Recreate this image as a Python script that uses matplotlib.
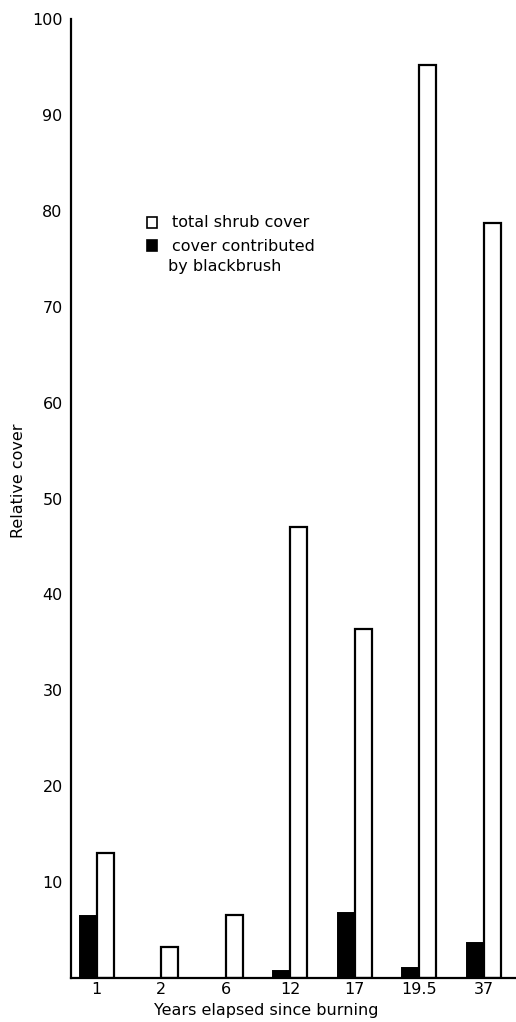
import matplotlib
matplotlib.use("Agg")
import matplotlib.pyplot as plt
from matplotlib.patches import Rectangle
import numpy as np

plt.rcParams['font.family'] = ['DejaVu Sans']

categories = ["1", "2", "6", "12", "17", "19.5", "37"]
total_shrub = [13.0, 3.2, 6.6, 47.0, 36.4, 95.2, 78.7]
blackbrush = [6.5, 0.0, 0.0, 0.7, 6.8, 1.0, 3.6]
yticks = [10, 20, 30, 40, 50, 60, 70, 80, 90, 100]

fig = plt.figure(figsize=(5.16, 10.22), dpi=100)
ax = fig.add_axes([71/516, 1 - 978/1022, 1 - 71/516, (978 - 19)/1022])

x = np.arange(len(categories))
w = 0.265
ax.bar(x - w/2, blackbrush, width=w, color='black', edgecolor='black', linewidth=1.4)
ax.bar(x + w/2, total_shrub, width=w, color='white', edgecolor='black', linewidth=1.6)

ax.set_xlim(-0.40, 6.5)
ax.set_ylim(0, 100)
ax.set_yticks(yticks)
ax.set_yticklabels([str(v) for v in yticks], fontsize=11.5)
ax.set_xticks(x)
ax.set_xticklabels(categories, fontsize=11.5)
ax.tick_params(axis='both', length=0)
ax.tick_params(axis='y', pad=6)
ax.tick_params(axis='x', pad=3)
for s in ['top', 'right']:
    ax.spines[s].set_visible(False)
ax.spines['left'].set_linewidth(1.6)
ax.spines['bottom'].set_linewidth(1.6)

fig.text(19/516, 1 - 481/1022, "Relative cover", rotation=90, ha='center', va='center', fontsize=11.5)
fig.text(266/516, 1 - 1010/1022, "Years elapsed since burning", ha='center', va='center', fontsize=11.5)

# legend
fig.patches.append(Rectangle((147/516, 1 - 228/1022), 10/516, 11/1022, transform=fig.transFigure,
                             facecolor='white', edgecolor='black', linewidth=1.2))
fig.patches.append(Rectangle((147/516, 1 - 251/1022), 10/516, 11/1022, transform=fig.transFigure,
                             facecolor='black', edgecolor='black', linewidth=1.2))
fig.text(172/516, 1 - 222/1022, "total shrub cover", ha='left', va='center', fontsize=11.5)
fig.text(172/516, 1 - 246/1022, "cover contributed", ha='left', va='center', fontsize=11.5)
fig.text(168/516, 1 - 266/1022, "by blackbrush", ha='left', va='center', fontsize=11.5)

fig.savefig("out.png", dpi=100)
